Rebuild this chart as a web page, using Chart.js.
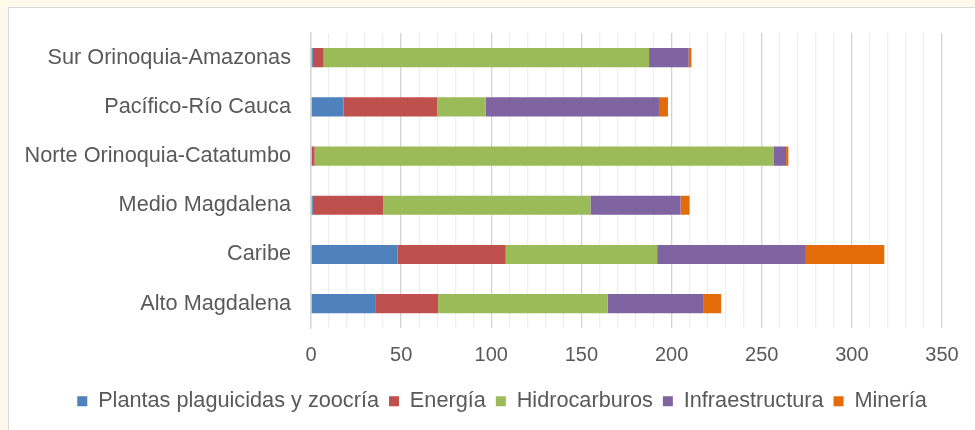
<!DOCTYPE html>
<html>
<head>
<meta charset="utf-8">
<script src="https://cdn.jsdelivr.net/npm/chart.js@4"></script>
<style>
  html, body { margin: 0; padding: 0; }
  body { width: 975px; height: 430px; background: #FEF9EA; position: relative; overflow: hidden; }
  #panel { position: absolute; left: 8px; top: 7px; width: 1000px; height: 460px; background: #ffffff; border: 1px solid #d9d9d9; box-sizing: border-box; }
  #wrap { position: absolute; left: 0; top: 0; width: 975px; height: 430px; }
</style>
</head>
<body>
<div id="panel"></div>
<div id="wrap"><canvas id="c" width="975" height="430"></canvas></div>
<script>
const categories = ["Sur Orinoquia-Amazonas", "Pacífico-Río Cauca", "Norte Orinoquia-Catatumbo", "Medio Magdalena", "Caribe", "Alto Magdalena"];
const seriesNames = ["Plantas plaguicidas y zoocría", "Energía", "Hidrocarburos", "Infraestructura", "Minería"];
const plantas = [1, 18, 0, 1, 48, 36];
const energia = [6, 52, 2, 39, 60, 34.5];
const hidrocarburos = [180.5, 27, 254.5, 115, 84, 94];
const infraestructura = [22, 96, 7, 50, 82.5, 53];
const mineria = [1.5, 5, 1.3, 5, 43.5, 10];
const xTicks = [0, 50, 100, 150, 200, 250, 300, 350];
const colors = ["#4F81BD", "#C0504D", "#9BBB59", "#8064A2", "#E36C09"];

const values = [plantas, energia, hidrocarburos, infraestructura, mineria];
const FONT = "'Liberation Sans', Arial, sans-serif";
const TXT = "#595959";

const shiftLegend = {
  id: 'shiftLegend',
  afterLayout(chart) {
    const lg = chart.legend;
    if (lg) { lg.left += 31; lg.right += 31; }
  }
};

new Chart(document.getElementById('c'), {
  type: 'bar',
  data: {
    labels: categories,
    datasets: values.map((v, i) => ({
      label: seriesNames[i],
      data: v,
      backgroundColor: colors[i],
      borderWidth: 0,
      barPercentage: 0.39,
      categoryPercentage: 1.0
    }))
  },
  plugins: [shiftLegend],
  options: {
    indexAxis: 'y',
    responsive: false,
    animation: false,
    devicePixelRatio: 1,
    layout: { padding: { left: 0, right: 33, top: 32, bottom: 8 } },
    plugins: {
      tooltip: { enabled: false },
      legend: {
        position: 'bottom',
        labels: {
          boxWidth: 10, boxHeight: 10,
          color: TXT,
          font: { family: FONT, size: 21.7 },
          padding: 10
        }
      }
    },
    scales: {
      x: {
        stacked: true,
        min: 0, max: xTicks[xTicks.length - 1],
        afterBuildTicks: (scale) => {
          const t = [];
          for (let v = xTicks[0]; v <= xTicks[xTicks.length - 1]; v += 10) t.push({ value: v });
          scale.ticks = t;
        },
        afterFit: (scale) => { scale.height = 52; },
        ticks: {
          autoSkip: false,
          maxRotation: 0,
          padding: 15,
          color: TXT,
          font: { family: FONT, size: 20 },
          callback: (v) => xTicks.includes(v) ? String(v) : ''
        },
        grid: {
          drawTicks: false,
          color: (ctx) => (ctx.tick && xTicks.includes(ctx.tick.value)) ? '#d3d3d3' : '#efefef',
          lineWidth: 1.3
        },
        border: { display: false }
      },
      y: {
        stacked: true,
        afterFit: (scale) => { scale.width = 311; },
        ticks: {
          padding: 20,
          color: TXT,
          font: { family: FONT, size: 21.7 }
        },
        grid: { display: false, drawTicks: false },
        border: { display: true, color: '#d3d3d3', width: 1.3 }
      }
    }
  }
});
</script>
</body>
</html>
